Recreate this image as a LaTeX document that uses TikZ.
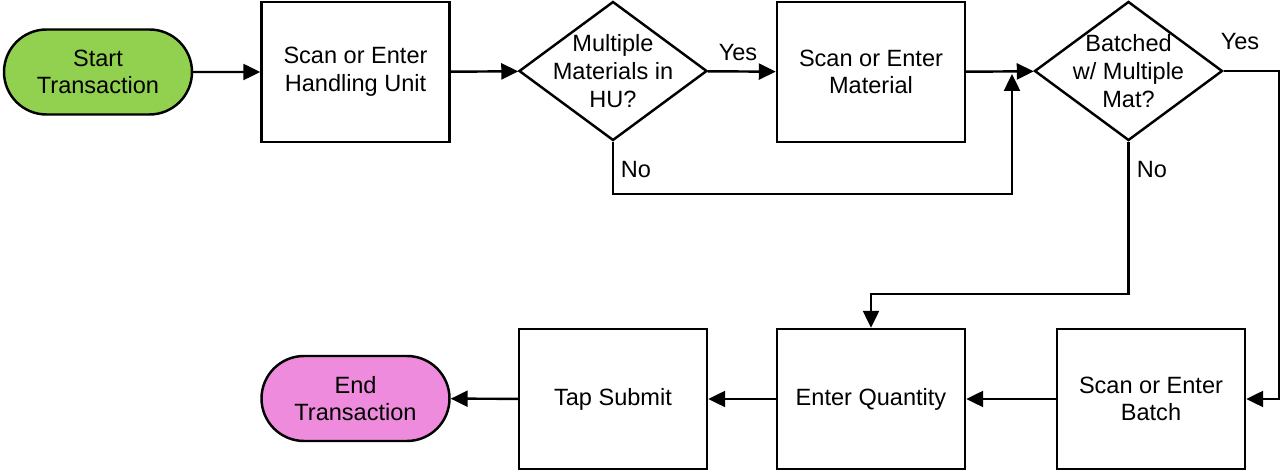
\documentclass[tikz,border=0pt]{standalone}
\usepackage{fontspec}
\setmainfont{Liberation Sans}
\usepackage{xcolor}
\usetikzlibrary{shapes,arrows,positioning,calc,arrows.meta}
\definecolor{startgreen}{RGB}{146,208,80}
\definecolor{endpink}{RGB}{238,139,220}

\begin{document}
\begin{tikzpicture}[
    font=\fontsize{13.4}{15.8}\selectfont,
    every node/.style={align=center},
    terminal/.style={draw, rounded rectangle, line width=1.4pt, minimum width=3.76cm, minimum height=1.7cm, inner sep=0pt},
    process/.style={draw, rectangle, line width=1.4pt, minimum width=3.76cm, minimum height=2.8cm, inner sep=0pt},
    decision/.style={draw, diamond, line width=1.4pt, inner xsep=-0.8cm, inner ysep=-0.5cm, minimum width=3.76cm, minimum height=2.78cm},
    arr/.style={-{Triangle[length=0.34cm, width=0.32cm]}, line width=1.4pt}
]
    \useasboundingbox (0,0) rectangle (25.62,9.44);

    % Top row
    \node[terminal, fill=startgreen] (start) at (1.96,8.0) {Start\\Transaction};
    \node[process] (hu) at (7.11,8.0) {Scan or Enter\\Handling Unit};
    \node[decision] (multi) at (12.26,8.02) {Multiple\\Materials in\\HU?};
    \node[process] (mat) at (17.42,8.0) {Scan or Enter\\Material};
    \node[decision] (batched) at (22.57,8.02) {Batched\\w/ Multiple\\Mat?};

    % Bottom row
    \node[process] (batch) at (23.02,1.46) {Scan or Enter\\Batch};
    \node[process] (qty) at (17.42,1.46) {Enter Quantity};
    \node[process] (submit) at (12.26,1.46) {Tap Submit};
    \node[terminal, fill=endpink] (end) at (7.11,1.47) {End\\Transaction};

    % Branch labels
    \node (yes1) at (14.76,8.38) {Yes};
    \node (yes2) at (24.8,8.6) {Yes};
    \node (no1) at (12.72,6.04) {No};
    \node (no2) at (23.04,6.04) {No};

    % Flow
    \coordinate (join) at (20.24,7.96);
    \draw[arr] (start) -- (hu);
    \draw[arr] (hu) -- (multi);
    \draw[arr] (multi) -- (mat);
    \draw[arr] (mat) -- (batched);
    \draw[arr] (multi.south) -- ++(0,-1.05) -| (join);

    % Batch branches
    \draw[arr] (batched.east) -- ++(1.1,0) |- (batch.east);
    \draw[arr] (batched.south) -- ++(0,-3.05) -| (qty.north);

    % Finish
    \draw[arr] (batch) -- (qty);
    \draw[arr] (qty) -- (submit);
    \draw[arr] (submit) -- (end);

\end{tikzpicture}
\end{document}
